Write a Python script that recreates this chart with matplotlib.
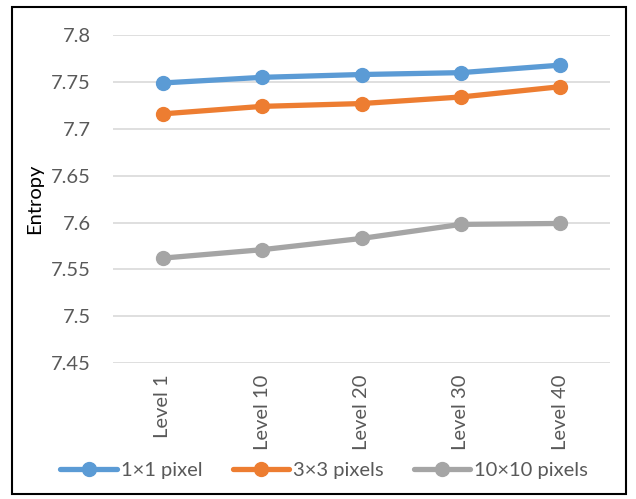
import matplotlib.pyplot as plt
from matplotlib.patches import Rectangle

plt.rcParams['font.family'] = ['Lato', 'DejaVu Sans']

levels = ["Level 1", "Level 10", "Level 20", "Level 30", "Level 40"]
entropy_1x1 = [7.749, 7.755, 7.758, 7.760, 7.768]
entropy_3x3 = [7.716, 7.724, 7.727, 7.734, 7.745]
entropy_10x10 = [7.562, 7.571, 7.583, 7.598, 7.599]

series = [
    ("1×1 pixel", entropy_1x1, "#5B9BD5"),
    ("3×3 pixels", entropy_3x3, "#ED7D31"),
    ("10×10 pixels", entropy_10x10, "#A5A5A5"),
]

fs = 14.5

fig = plt.figure(figsize=(6.36, 4.99), dpi=100)
ax = fig.add_axes([0.178, 0.2725, 0.781, 0.657])

x = range(len(levels))
for name, vals, col in series:
    ax.plot(x, vals, color=col, linewidth=3.8, marker='o', markersize=10,
            label=name, solid_capstyle='round')

ax.set_xlim(-0.5, len(levels) - 0.5)
ax.set_ylim(7.45, 7.8)
ax.set_yticks([7.45, 7.5, 7.55, 7.6, 7.65, 7.7, 7.75, 7.8])
ax.set_yticklabels(["7.45", "7.5", "7.55", "7.6", "7.65", "7.7", "7.75", "7.8"])
ax.set_xticks(list(x))
ax.set_xticklabels(levels, rotation=90)
ax.grid(axis='y', color='#D9D9D9', linewidth=1.2)
ax.set_axisbelow(True)
for s in ax.spines.values():
    s.set_visible(False)
ax.tick_params(axis='both', length=0, labelsize=fs, colors='#595959', pad=8)
ax.tick_params(axis='y', pad=16)
ax.set_ylabel("Entropy", fontsize=fs, color='black', labelpad=6)

fig.legend(loc='center', bbox_to_anchor=(0.51, 0.058), ncol=3, frameon=False,
           fontsize=fs, handlelength=2.8, columnspacing=1.5, handletextpad=0.2,
           labelcolor='#595959')

fig.patches.append(Rectangle((0.019, 0.01), 0.965, 0.975, transform=fig.transFigure,
                             fill=False, edgecolor='black', linewidth=1.5))

fig.savefig("out.png", dpi=100)
